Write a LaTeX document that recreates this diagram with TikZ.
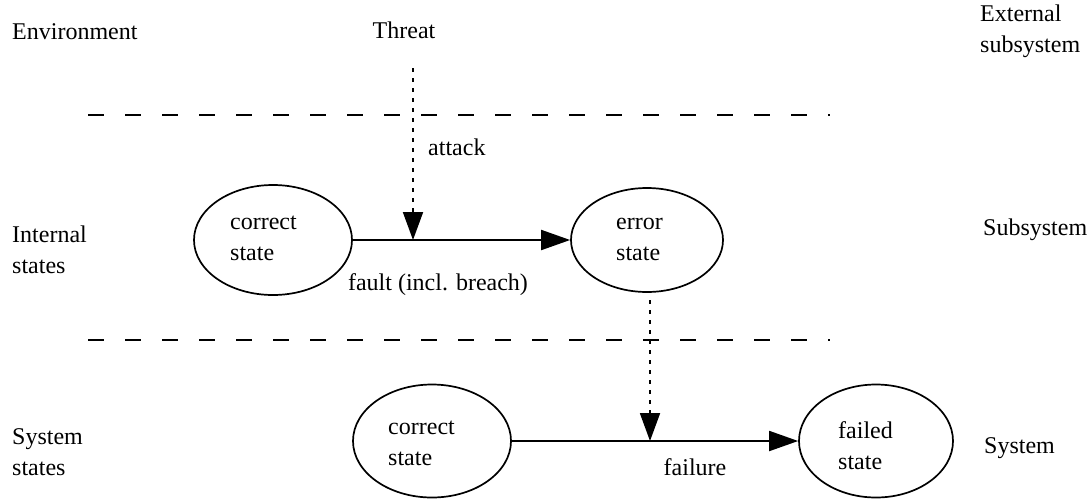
\documentclass[tikz,border=0pt]{standalone}
\usepackage{fontspec}
\setmainfont{Liberation Serif}
\newfontfamily\diagfont{Liberation Serif}
\usetikzlibrary{positioning,arrows.meta,shapes.geometric}

\begin{document}
\begin{tikzpicture}[
  x=1pt, y=-1pt,
  font=\diagfont\fontsize{24}{31}\selectfont,
  every node/.style={inner sep=0pt},
  state/.style={ellipse, draw=black, line width=1.7pt, minimum width=158pt, minimum height=110pt},
  lbl/.style={align=left, anchor=west},
  flow/.style={draw=black, line width=1.9pt, -{Triangle[length=29pt, width=20pt]}},
  cause/.style={draw=black, line width=1.9pt, dash pattern=on 4pt off 6pt, -{Triangle[length=28pt, width=20pt]}},
  border/.style={draw=black, line width=1.6pt, dash pattern=on 16pt off 21pt}
]
\useasboundingbox (0,0) rectangle (1089,499);

% layer separators
\draw[border] (88,115) -- (830,115);
\draw[border] (88,340) -- (830,340);

% row labels
\node[lbl] (env)  at (12,32)  {Environment};
\node[lbl] (int)  at (12,250) {Internal\\states};
\node[lbl] (sys)  at (12,452) {System\\states};
\node[lbl] (ext)  at (980,31) {External\\subsystem};
\node[lbl] (sub)  at (983,230) {Subsystem};
\node[lbl] (syst) at (984,448) {System};

% states
\node[state] (cs1) at (273,240) {};
\node[state, minimum width=152pt, minimum height=104pt] (es) at (647,240) {};
\node[state, minimum height=113pt] (cs2) at (432,441) {};
\node[state, minimum width=154pt, minimum height=113pt] (fs) at (876,441) {};

\node[lbl] (cs1t) at (230,238) {correct\\state};
\node[lbl] (est)  at (616,239) {error\\state};
\node[lbl] (cs2t) at (388,443) {correct\\state};
\node[lbl] (fst)  at (838,446) {failed\\state};

% threat and attack
\node (threat) at (404,30) {Threat};
\coordinate (atk0) at (413,68);
\coordinate (atk1) at (413,240);
\node[lbl] (atk) at (428,147) {attack};

\draw[flow] (cs1.east) -- (es.west);
\draw[cause] (atk0) -- (atk1);
\node (fault) at (438,285) {fault (incl. breach)};

% propagation to the system level
\coordinate (err0) at (650,300);
\coordinate (err1) at (650,441);
\draw[flow] (cs2.east) -- (fs.west);
\draw[cause] (err0) -- (err1);
\node (fail) at (695,467) {failure};
\end{tikzpicture}
\end{document}
